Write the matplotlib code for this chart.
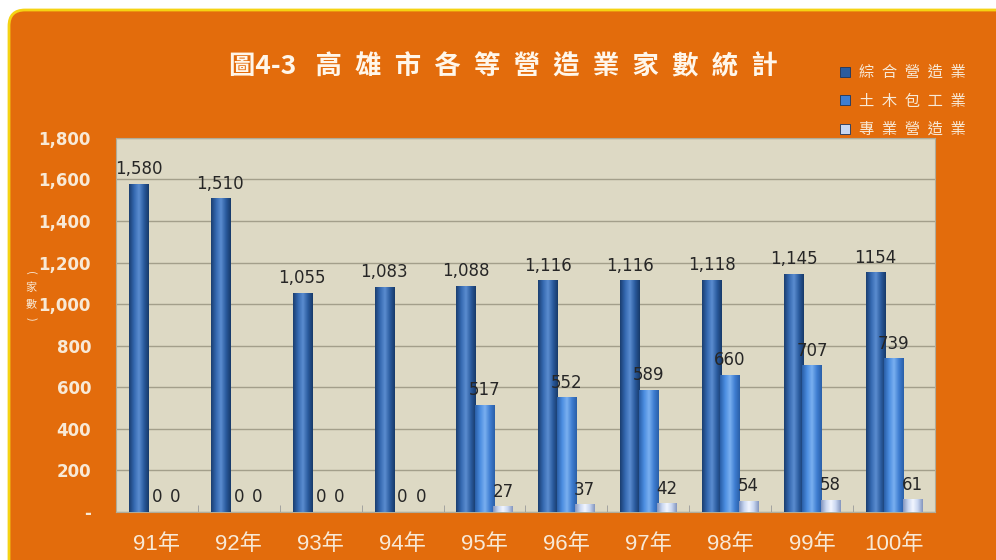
import numpy as np
import matplotlib.pyplot as plt
from matplotlib.patches import FancyBboxPatch
from matplotlib.colors import LinearSegmentedColormap

plt.rcParams['font.family'] = ['Noto Sans CJK TC', 'DejaVu Sans']

# %% data
years = ['91年', '92年', '93年', '94年', '95年', '96年', '97年', '98年', '99年', '100年']
general = [1580, 1510, 1055, 1083, 1088, 1116, 1116, 1118, 1145, 1154]
civil = [0, 0, 0, 0, 517, 552, 589, 660, 707, 739]
special = [0, 0, 0, 0, 27, 37, 42, 54, 58, 61]
general_lbl = ['1,580', '1,510', '1,055', '1,083', '1,088', '1,116', '1,116', '1,118', '1,145', '1154']
series_names = ['綜合營造業', '土木包工業', '專業營造業']

# %% colours
orange = '#E36C0C'
cream = '#F8E9D6'
cols = ['#2B5C9F', '#3F7ED2', '#C8D6F0']
shades = [['#1B3E70', '#3468B0', '#5B8DD0', '#2B5C9F', '#173a6a'],
          ['#2A5FA8', '#4A8CE0', '#7AB0F0', '#3F7ED2', '#2A5FA8'],
          ['#8496BE', '#C8D6F0', '#F2F6FF', '#C8D6F0', '#8496BE']]

fig = plt.figure(figsize=(9.96, 5.6), dpi=100, facecolor='white')
bg = FancyBboxPatch((9, -30), 1020, 580, boxstyle='round,pad=0,rounding_size=16',
                    transform=None, facecolor=orange, edgecolor='#F5D313', lw=2.0,
                    zorder=-10)
fig.patches.append(bg)

ax = fig.add_axes([0.1165, 0.0857, 0.822, 0.668])
ax.set_zorder(1)
ax.set_facecolor('#DDD9C4')

x = np.arange(len(years))
w = 0.235
offs = [-0.225, 0.0, 0.225]
data = [general, civil, special]

for k in range(3):
    bars = ax.bar(x + offs[k], data[k], w, color=cols[k], edgecolor='none', zorder=3)
    cmap = LinearSegmentedColormap.from_list('c%d' % k, shades[k])
    grad = np.linspace(0, 1, 64).reshape(1, -1)
    for b in bars:
        if b.get_height() <= 0:
            continue
        x0, y0 = b.get_x(), b.get_y()
        im = ax.imshow(grad, cmap=cmap, aspect='auto', zorder=3.5,
                       extent=(x0, x0 + b.get_width(), y0, y0 + b.get_height()))
        im.set_clip_path(b)
    labels = general_lbl if k == 0 else [str(v) for v in data[k]]
    for xi, v, t in zip(x + offs[k], data[k], labels):
        ax.annotate(t, (xi, v), xytext=(0, 4), textcoords='offset points',
                    ha='center', va='bottom', fontsize=12, color='#262626',
                    family='DejaVu Sans', zorder=5)

ax.set_xlim(-0.5, len(years) - 0.5)
ax.set_ylim(0, 1800)
ax.set_yticks(range(0, 1801, 200))
ax.set_yticklabels(['-'] + ['{:,}'.format(v) for v in range(200, 1801, 200)],
                   fontsize=12, fontweight='bold', color=cream, family='DejaVu Sans')
ax.set_xticks(x)
ax.set_xticklabels(years, fontsize=16, color=cream, family=['Liberation Sans', 'Noto Sans CJK TC'])
ax.set_xticks(np.arange(len(years) + 1) - 0.5, minor=True)
ax.tick_params(axis='x', which='major', length=0, pad=16)
ax.tick_params(axis='x', which='minor', direction='in', length=5, color='#9A9A9A')
ax.tick_params(axis='y', length=0, pad=18)
ax.grid(axis='y', color='#A39F8B', lw=1.0, zorder=1)
ax.set_axisbelow(True)
for s in ax.spines.values():
    s.set_color('#B0AC9A')
    s.set_linewidth(0.8)

# vertical axis title (家數), one character per line
fig.text(0.031, 0.512, '(', color=cream, fontsize=8, ha='center', va='center', rotation=-90)
fig.text(0.031, 0.486, '家', color=cream, fontsize=8, ha='center', va='center')
fig.text(0.031, 0.456, '數', color=cream, fontsize=8, ha='center', va='center')
fig.text(0.031, 0.430, ')', color=cream, fontsize=8, ha='center', va='center', rotation=-90)

title = '圖4-3\u2002 ' + '\u2002'.join('高雄市各等營造業家數統計')
fig.text(0.505, 0.88, title, color='#FFF6EA', fontsize=19, fontweight='bold',
         ha='center', va='center')

handles = [plt.Rectangle((0, 0), 1, 1, facecolor=c, edgecolor='#1A3560', lw=0.6) for c in cols]
fig.legend(handles, ['\u2002'.join(n) for n in series_names], loc='upper left',
           bbox_to_anchor=(0.83, 0.91), frameon=False, labelcolor=cream, fontsize=11,
           handlelength=0.6, handleheight=0.6, handletextpad=0.6, labelspacing=0.75)

fig.savefig('out.png', dpi=100, facecolor='white')
